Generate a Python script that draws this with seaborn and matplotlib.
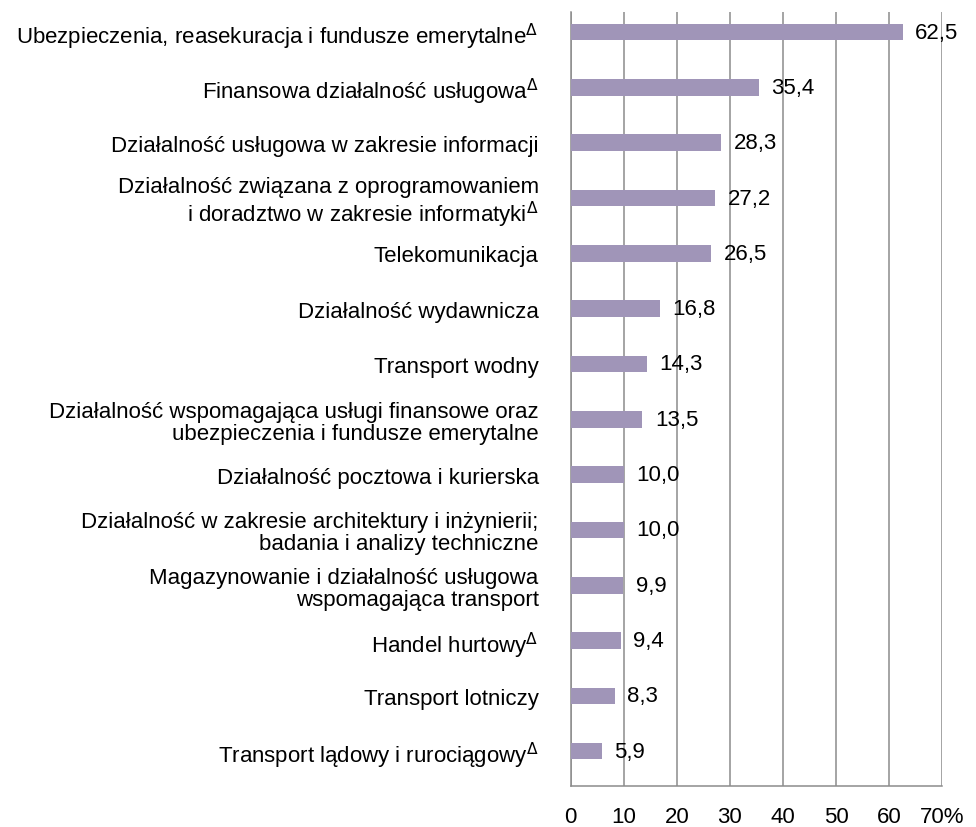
import matplotlib
matplotlib.use("Agg")
import matplotlib.pyplot as plt
import numpy as np
import pandas as pd
import seaborn as sns

categories = [
    "Ubezpieczenia, reasekuracja i fundusze emerytalne$^{\\Delta}$",
    "Finansowa działalność usługowa$^{\\Delta}$",
    "Działalność usługowa w zakresie informacji",
    "Działalność związana z oprogramowaniem\ni doradztwo w zakresie informatyki$^{\\Delta}$",
    "Telekomunikacja",
    "Działalność wydawnicza",
    "Transport wodny",
    "Działalność wspomagająca usługi finansowe oraz\nubezpieczenia i fundusze emerytalne",
    "Działalność pocztowa i kurierska",
    "Działalność w zakresie architektury i inżynierii;\nbadania i analizy techniczne",
    "Magazynowanie i działalność usługowa\nwspomagająca transport",
    "Handel hurtowy$^{\\Delta}$",
    "Transport lotniczy",
    "Transport lądowy i rurociągowy$^{\\Delta}$",
]
values = [62.5, 35.4, 28.3, 27.2, 26.5, 16.8, 14.3, 13.5, 10.0, 10.0, 9.9, 9.4, 8.3, 5.9]
xticks = [0, 10, 20, 30, 40, 50, 60, 70]
xtick_labels = ["0", "10", "20", "30", "40", "50", "60", "70%"]

df = pd.DataFrame({"kategoria": categories, "wartosc": values})

sns.set_style("white")
plt.rcParams["font.family"] = ["Liberation Sans", "DejaVu Sans"]
plt.rcParams["mathtext.fontset"] = "custom"
plt.rcParams["mathtext.rm"] = "DejaVu Sans"
plt.rcParams["text.color"] = "black"

fig = plt.figure(figsize=(9.76, 8.28), dpi=100)
ax = fig.add_axes([0.5847, 0.0495, 0.3808, 0.9352])

grid_col = "#8c8c8c"
bar_col = "#A095B8"

sns.barplot(data=df, x="wartosc", y="kategoria", orient="h", color=bar_col,
            width=0.3, saturation=1, linewidth=0, ax=ax, zorder=3)

ax.set_xlim(0, 70)
ax.set_ylim(len(categories) - 1 + 0.63, -0.37)
ax.set_xticks(xticks)
ax.set_xticklabels(xtick_labels, fontsize=16, color="black")
ax.set_yticks(np.arange(-0.37, len(categories), 1), minor=True)
ax.tick_params(axis="y", which="major", length=0, pad=23, labelsize=16,
               labelcolor="black")
for lab in ax.get_yticklabels():
    lab.set_linespacing(1.05)
ax.tick_params(axis="y", which="minor", length=4, color=grid_col, width=1)
ax.tick_params(axis="x", length=4.5, color=grid_col, width=1, pad=10)
ax.set_xlabel("")
ax.set_ylabel("")

ax.grid(axis="x", color=grid_col, linewidth=1.1, zorder=0)
ax.set_axisbelow(True)
for s in ["top", "right"]:
    ax.spines[s].set_visible(False)
for s in ["left", "bottom"]:
    ax.spines[s].set_color(grid_col)
    ax.spines[s].set_linewidth(1.1)

for i, v in enumerate(values):
    ax.annotate(f"{v:.1f}".replace(".", ","), xy=(v, i), xytext=(9, 0),
                textcoords="offset points", va="center", ha="left", fontsize=16,
                color="black", zorder=4)

fig.savefig("out.png", dpi=100)
